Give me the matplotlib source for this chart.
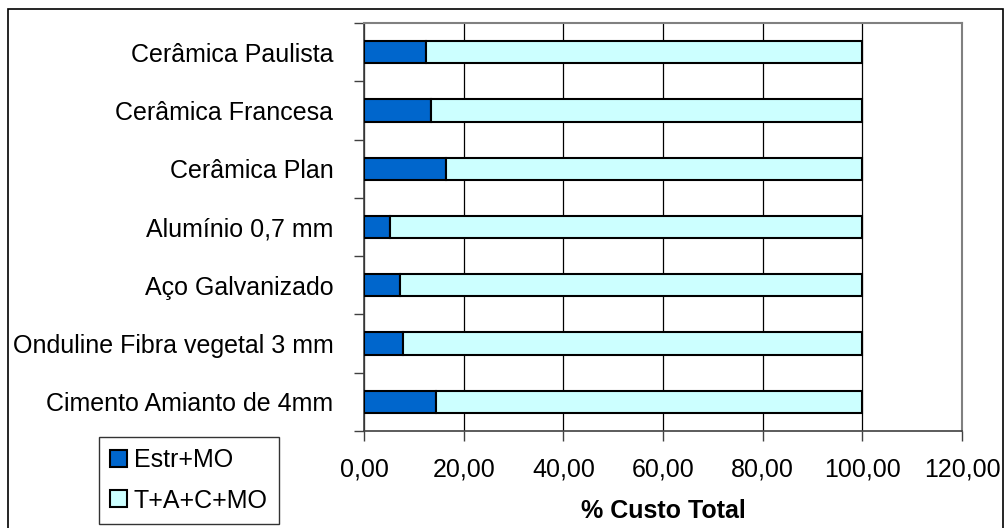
import matplotlib
matplotlib.use("Agg")
import matplotlib.pyplot as plt
from matplotlib.patches import Rectangle
from matplotlib.ticker import FuncFormatter

plt.rcParams['font.family'] = ['Liberation Sans', 'DejaVu Sans']

categories = [
    "Cimento Amianto de 4mm",
    "Onduline Fibra vegetal 3 mm",
    "Aço Galvanizado",
    "Alumínio 0,7 mm",
    "Cerâmica Plan",
    "Cerâmica Francesa",
    "Cerâmica Paulista",
]
estr_mo = [14.4, 7.9, 7.2, 5.2, 16.4, 13.5, 12.4]
tacmo = [100 - v for v in estr_mo]
series_names = ["Estr+MO", "T+A+C+MO"]
xticks = [0, 20, 40, 60, 80, 100, 120]

dark = "#0066CC"
light = "#CCFFFF"
FS = 18

fig = plt.figure(figsize=(10.05, 5.28), dpi=100)
ax = fig.add_axes([364 / 1005, 1 - 431 / 528, 598 / 1005, 408 / 528])

ypos = list(range(len(categories)))
h = 0.38
ax.barh(ypos, estr_mo, height=h, color=dark, edgecolor="black", linewidth=1.5,
        label=series_names[0], zorder=3)
ax.barh(ypos, tacmo, left=estr_mo, height=h, color=light, edgecolor="black",
        linewidth=1.5, label=series_names[1], zorder=3)

ax.set_xlim(0, 120)
ax.set_ylim(-0.5, len(categories) - 0.5)
ax.set_xticks(xticks)
ax.xaxis.set_major_formatter(FuncFormatter(lambda v, p: f"{v:.2f}".replace(".", ",")))
ax.grid(axis="x", color="black", linewidth=0.9, zorder=0)

# category labels sit between the boundary ticks
ax.set_yticks([y + 0.5 for y in ypos[:-1]] + [-0.5, len(categories) - 0.5])
ax.set_yticklabels([])
ax.set_yticks(ypos, minor=True)
ax.set_yticklabels(categories, minor=True, fontsize=FS)
ax.tick_params(axis="y", which="minor", length=0, pad=22)
ax.tick_params(axis="y", which="major", length=7, width=1, color="#404040", direction="out")
ax.tick_params(axis="x", length=7, width=1, color="#404040", direction="out",
               labelsize=FS, pad=12)

for side in ("top", "right"):
    ax.spines[side].set_color("#808080")
    ax.spines[side].set_linewidth(1.5)
ax.spines["left"].set_color("#404040")
ax.spines["bottom"].set_color("#404040")
ax.spines["left"].set_linewidth(1.2)
ax.spines["bottom"].set_linewidth(1.2)

ax.set_xlabel("% Custo Total", fontsize=FS, fontweight="bold")
ax.xaxis.set_label_coords(0.5, (431 - 499) / 408)
ax.xaxis.label.set_va("top")

# outer chart border
fig.patches.append(Rectangle((8 / 1005, -0.01), 995 / 1005, 1 - 9 / 528 + 0.01,
                             transform=fig.transFigure, fill=False,
                             edgecolor="black", linewidth=1.2))

handles, labels = ax.get_legend_handles_labels()
leg = fig.legend(handles, labels, loc="upper left",
                 bbox_to_anchor=(99 / 1005, 1 - 437 / 528), fontsize=FS, frameon=True,
                 fancybox=False, edgecolor="black", handlelength=0.65,
                 handleheight=0.65, handletextpad=0.3, borderpad=0.45,
                 labelspacing=0.65, borderaxespad=0)
leg.get_frame().set_linewidth(1.0)

fig.savefig("out.png", dpi=100)
